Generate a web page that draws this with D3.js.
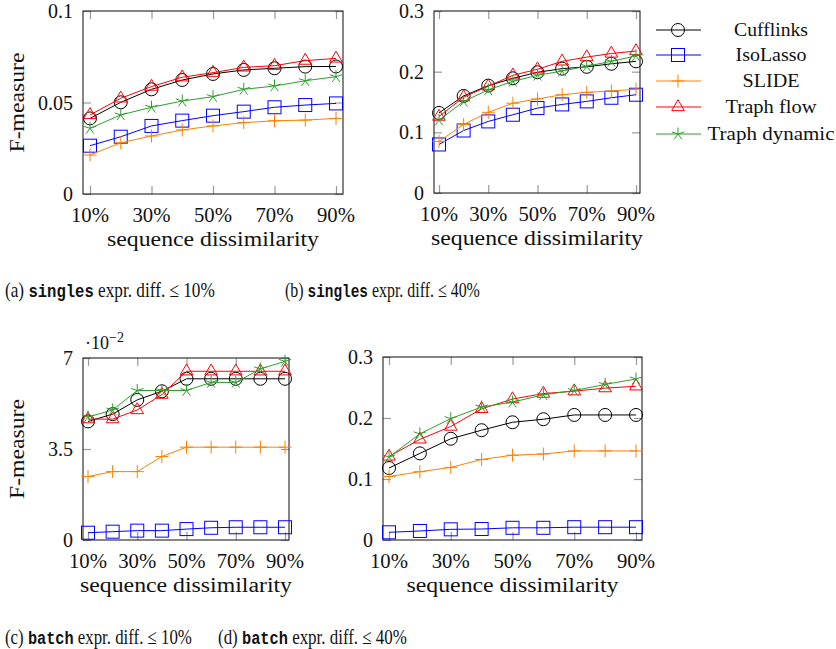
<!DOCTYPE html>
<html><head><meta charset="utf-8">
<script src="https://cdn.jsdelivr.net/npm/d3@7"></script>
<style>
body{margin:0;background:#fff;}
svg{display:block;}
text{font-family:"Liberation Serif","DejaVu Serif",serif;fill:#111;}
</style></head>
<body>
<svg id="chart" width="836" height="649"></svg>
<script>
// ---------- data ----------
const xValues = [10,20,30,40,50,60,70,80,90];
const xTickValues = [10,30,50,70,90];
const xTickLabels = ["10%","30%","50%","70%","90%"];
const seriesNames = ["Cufflinks","IsoLasso","SLIDE","Traph flow","Traph dynamic"];
const seriesColors = ["#000000","#0000ff","#ff8000","#ff0000","#2ca02c"];
const seriesMarks = ["circle","square","plus","triangle","star"];

// (a) singles expr. diff <= 10%
const aCufflinks = [0.0413,0.0501,0.0572,0.0623,0.0656,0.0678,0.0687,0.0696,0.0697];
const aIsoLasso  = [0.0264,0.0313,0.0372,0.0401,0.0428,0.0450,0.0474,0.0486,0.0495];
const aSLIDE     = [0.0213,0.0280,0.0317,0.0350,0.0372,0.0390,0.0400,0.0404,0.0413];
const aTraphFlow = [0.0432,0.0523,0.0587,0.0638,0.0663,0.0692,0.0701,0.0729,0.0741];
const aTraphDyn  = [0.0359,0.0432,0.0474,0.0508,0.0532,0.0572,0.0590,0.0619,0.0641];
const aYTicks = [0,0.05,0.1];
const aYLabels = ["0","0.05","0.1"];

// (b) singles expr. diff <= 40%
const bCufflinks = [0.132,0.160,0.177,0.189,0.199,0.205,0.208,0.213,0.217];
const bIsoLasso  = [0.080,0.103,0.118,0.129,0.140,0.146,0.151,0.157,0.162];
const bSLIDE     = [0.085,0.113,0.133,0.148,0.155,0.162,0.166,0.168,0.171];
const bTraphFlow = [0.126,0.158,0.176,0.194,0.204,0.217,0.224,0.230,0.234];
const bTraphDyn  = [0.120,0.151,0.170,0.184,0.194,0.201,0.209,0.217,0.226];
const bYTicks = [0,0.1,0.2,0.3];
const bYLabels = ["0","0.1","0.2","0.3"];

// (c) batch expr. diff <= 10%  (values in units of 10^-2)
const cCufflinks = [4.56,4.84,5.39,5.72,6.20,6.20,6.20,6.20,6.20];
const cIsoLasso  = [0.28,0.32,0.36,0.36,0.42,0.47,0.49,0.49,0.49];
const cSLIDE     = [2.44,2.63,2.63,3.21,3.57,3.57,3.57,3.57,3.57];
const cTraphFlow = [4.65,4.65,5.00,5.59,6.49,6.49,6.49,6.49,6.49];
const cTraphDyn  = [4.73,5.00,5.75,5.75,5.75,6.06,6.06,6.58,6.87];
const cYTicks = [0,3.5,7];
const cYLabels = ["0","3.5","7"];

// (d) batch expr. diff <= 40%
const dCufflinks = [0.118,0.142,0.166,0.180,0.193,0.198,0.205,0.205,0.205];
const dIsoLasso  = [0.0126,0.0148,0.0175,0.018,0.020,0.020,0.021,0.021,0.021];
const dSLIDE     = [0.104,0.112,0.119,0.132,0.139,0.141,0.146,0.146,0.146];
const dTraphFlow = [0.137,0.165,0.186,0.215,0.231,0.240,0.244,0.249,0.252];
const dTraphDyn  = [0.136,0.174,0.199,0.218,0.226,0.238,0.245,0.255,0.264];
const dYTicks = [0,0.1,0.2,0.3];
const dYLabels = ["0","0.1","0.2","0.3"];

const captionA = ["(a) ","singles"," expr. diff. \u2264 10%"];
const captionB = ["(b) ","singles"," expr. diff. \u2264 40%"];
const captionC = ["(c) ","batch"," expr. diff. \u2264 10%"];
const captionD = ["(d) ","batch"," expr. diff. \u2264 40%"];

// ---------- layout ----------
const panels = [
  {box:[83,11,343,194], xr:[90,336], yMax:0.1, series:[aCufflinks,aIsoLasso,aSLIDE,aTraphFlow,aTraphDyn], yt:aYTicks, yl:aYLabels, ylabel:true, cap:captionA, capPos:[5,290], capW:210},
  {box:[434,11,640,193], xr:[439,636], yMax:0.3, series:[bCufflinks,bIsoLasso,bSLIDE,bTraphFlow,bTraphDyn], yt:bYTicks, yl:bYLabels, ylabel:false, cap:captionB, capPos:[285,290], capW:195},
  {box:[83,358,289,540], xr:[88,285], yMax:7, series:[cCufflinks,cIsoLasso,cSLIDE,cTraphFlow,cTraphDyn], yt:cYTicks, yl:cYLabels, ylabel:true, cap:captionC, capPos:[5,637], capW:187, sci:true},
  {box:[383,357,642,540], xr:[389,636], yMax:0.3, series:[dCufflinks,dIsoLasso,dSLIDE,dTraphFlow,dTraphDyn], yt:dYTicks, yl:dYLabels, ylabel:false, cap:captionD, capPos:[218,637], capW:189}
];
const legendWidths = [74,71,57,91,127];

const svg = d3.select("#chart");
const R = 6.5;

function drawMark(g, type, x, y, color){
  if(type==="circle"){
    g.append("circle").attr("cx",x).attr("cy",y).attr("r",R).attr("fill","none").attr("stroke",color).attr("stroke-width",1);
  } else if(type==="square"){
    g.append("rect").attr("x",x-R).attr("y",y-R).attr("width",2*R).attr("height",2*R).attr("fill","none").attr("stroke",color).attr("stroke-width",1);
  } else if(type==="plus"){
    g.append("path").attr("d",`M${x-R},${y}H${x+R}M${x},${y-R}V${y+R}`).attr("stroke",color).attr("stroke-width",1).attr("fill","none");
  } else if(type==="triangle"){
    const r=R+0.8;
    const pts=[[x,y-r],[x+r*0.866,y+r*0.5],[x-r*0.866,y+r*0.5]];
    g.append("path").attr("d","M"+pts.map(p=>p.join(",")).join("L")+"Z").attr("fill","none").attr("stroke",color).attr("stroke-width",1);
  } else if(type==="star"){
    let d="";
    for(let k=0;k<5;k++){
      const a=-Math.PI/2+k*2*Math.PI/5;
      d+=`M${x},${y}L${x+R*Math.cos(a)},${y+R*Math.sin(a)}`;
    }
    g.append("path").attr("d",d).attr("stroke",color).attr("stroke-width",1).attr("fill","none");
  }
}

panels.forEach(p=>{
  const [x0,y0,x1,y1]=p.box;
  const x=d3.scaleLinear().domain([10,90]).range(p.xr);
  const y=d3.scaleLinear().domain([0,p.yMax]).range([y1,y0]);
  const g=svg.append("g");

  const tickStyle = sel=>{
    sel.select(".domain").remove();
    sel.selectAll(".tick line").attr("stroke","#9a9a9a").attr("stroke-width",1.2);
    sel.selectAll(".tick text").remove();
  };
  g.append("g").attr("transform",`translate(0,${y1})`).call(d3.axisBottom(x).tickValues(xTickValues).tickSize(-8)).call(tickStyle);
  g.append("g").attr("transform",`translate(0,${y0})`).call(d3.axisTop(x).tickValues(xTickValues).tickSize(-8)).call(tickStyle);
  g.append("g").attr("transform",`translate(${x0},0)`).call(d3.axisLeft(y).tickValues(p.yt).tickSize(-8)).call(tickStyle);
  g.append("g").attr("transform",`translate(${x1},0)`).call(d3.axisRight(y).tickValues(p.yt).tickSize(-8)).call(tickStyle);

  g.append("rect").attr("x",x0).attr("y",y0).attr("width",x1-x0).attr("height",y1-y0)
    .attr("fill","none").attr("stroke","#222").attr("stroke-width",1.1);

  xTickValues.forEach((v,i)=>{
    g.append("text").attr("x",x(v)).attr("y",y1+21).attr("dy","0.35em").attr("text-anchor","middle")
      .attr("font-size",20).attr("textLength",38).attr("lengthAdjust","spacingAndGlyphs").text(xTickLabels[i]);
  });
  p.yt.forEach((v,i)=>{
    g.append("text").attr("x",x0-10).attr("y",y(v)).attr("dy","0.35em").attr("text-anchor","end")
      .attr("font-size",20).text(p.yl[i]);
  });
  g.append("text").attr("x",(x0+x1)/2).attr("y",y1+45).attr("dy","0.35em").attr("text-anchor","middle")
    .attr("font-size",20).attr("textLength",212).attr("lengthAdjust","spacingAndGlyphs").text("sequence dissimilarity");
  if(p.ylabel){
    g.append("text").attr("transform",`translate(17,${(y0+y1)/2}) rotate(-90)`).attr("dy","0.35em")
      .attr("text-anchor","middle").attr("font-size",20).attr("textLength",100).attr("lengthAdjust","spacingAndGlyphs").text("F-measure");
  }
  if(p.sci){
    const t=g.append("text").attr("x",x0+2).attr("y",y0-9).attr("font-size",18);
    t.append("tspan").text("\u00b710");
    t.append("tspan").attr("dy",-7).attr("font-size",14).text("\u22122");
  }

  const line=d3.line().x((d,i)=>x(xValues[i])).y(d=>y(d));
  p.series.forEach((s,k)=>{
    g.append("path").datum(s).attr("d",line).attr("fill","none").attr("stroke",seriesColors[k]).attr("stroke-width",1);
    const mg=g.append("g");
    s.forEach((v,i)=>drawMark(mg,seriesMarks[k],x(xValues[i]),y(v),seriesColors[k]));
  });

  // caption: natural text, horizontally condensed to reference width
  const cg=svg.append("g");
  const c=cg.append("text").attr("x",0).attr("y",0).attr("dy","0.35em").attr("font-size",21);
  c.append("tspan").text(p.cap[0]);
  c.append("tspan").attr("font-family","Liberation Mono, DejaVu Sans Mono, monospace").attr("font-size",19).attr("font-weight","bold").text(p.cap[1]);
  c.append("tspan").text(p.cap[2]);
  const w=c.node().getComputedTextLength();
  cg.attr("transform",`translate(${p.capPos[0]},${p.capPos[1]}) scale(${p.capW/w},1)`);
});

const legY=[30,55,81,107,134];
const lg=svg.append("g");
seriesNames.forEach((n,k)=>{
  lg.append("line").attr("x1",656).attr("x2",701).attr("y1",legY[k]).attr("y2",legY[k])
    .attr("stroke",seriesColors[k]).attr("stroke-width",1);
  drawMark(lg,seriesMarks[k],678,legY[k],seriesColors[k]);
  lg.append("text").attr("x",771).attr("y",legY[k]).attr("dy","0.35em").attr("text-anchor","middle")
    .attr("font-size",18).attr("textLength",legendWidths[k]).attr("lengthAdjust","spacingAndGlyphs").text(n);
});
</script>
</body></html>
